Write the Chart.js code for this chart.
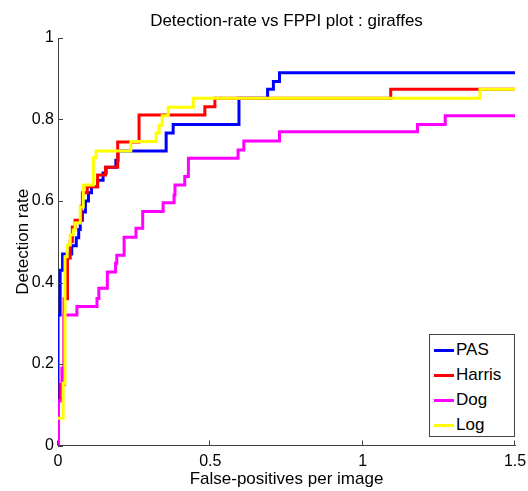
<!DOCTYPE html>
<html>
<head>
<meta charset="utf-8">
<script src="https://cdn.jsdelivr.net/npm/chart.js@4"></script>
<style>
  body { margin: 0; background: #fff; }
  #wrap { position: relative; width: 528px; height: 491px; }
  #legend {
    position: absolute; left: 429px; top: 334px; width: 84px; height: 101px;
    border: 1px solid #444; background: #fff;
    font: 17px "Liberation Sans", Arial, sans-serif; color: #000;
  }
  .row { position: absolute; left: 0; height: 20px; line-height: 20px; }
  .row i { position: absolute; left: 4px; top: 9px; width: 20px; height: 3px; }
  .row span { position: absolute; left: 26px; top: 0; white-space: nowrap; }
</style>
</head>
<body>
<div id="wrap">
  <canvas id="chart" width="528" height="491"></canvas>
  <div id="legend"></div>
</div>
<script>
// ── Data ──────────────────────────────────────────────────────
const xTicks = [0, 0.5, 1, 1.5];
const yTicks = [0, 0.2, 0.4, 0.6, 0.8, 1];

const pasX = [0, 0, 0.007, 0.015, 0.045, 0.06, 0.068, 0.073, 0.08, 0.09, 0.1, 0.11, 0.13, 0.148, 0.158, 0.19, 0.197, 0.355, 0.378, 0.594, 0.688, 0.707, 0.727, 1.5];
const pasY = [0, 0.32, 0.43, 0.47, 0.49, 0.51, 0.53, 0.553, 0.573, 0.6, 0.62, 0.635, 0.651, 0.669, 0.683, 0.70, 0.723, 0.767, 0.788, 0.852, 0.874, 0.893, 0.915, 0.915];

const harrisX = [0, 0, 0.007, 0.02, 0.031, 0.04, 0.047, 0.056, 0.076, 0.08, 0.096, 0.13, 0.156, 0.196, 0.266, 0.482, 0.515, 1.092, 1.5];
const harrisY = [0, 0.11, 0.15, 0.36, 0.46, 0.5, 0.536, 0.553, 0.587, 0.62, 0.635, 0.664, 0.683, 0.745, 0.811, 0.831, 0.852, 0.874, 0.874];

const dogX = [0, 0, 0.013, 0.02, 0.062, 0.128, 0.134, 0.162, 0.189, 0.193, 0.217, 0.256, 0.278, 0.345, 0.381, 0.384, 0.416, 0.428, 0.591, 0.61, 0.727, 1.18, 1.271, 1.5];
const dogY = [0, 0.11, 0.19, 0.32, 0.341, 0.361, 0.386, 0.426, 0.447, 0.467, 0.511, 0.533, 0.574, 0.596, 0.615, 0.639, 0.66, 0.705, 0.725, 0.747, 0.77, 0.788, 0.809, 0.809];

const logX = [0, 0.017, 0.023, 0.03, 0.04, 0.05, 0.056, 0.073, 0.083, 0.116, 0.125, 0.239, 0.322, 0.332, 0.342, 0.362, 0.444, 1.385, 1.5];
const logY = [0.067, 0.153, 0.463, 0.492, 0.517, 0.529, 0.546, 0.585, 0.639, 0.706, 0.723, 0.746, 0.767, 0.786, 0.809, 0.830, 0.852, 0.874, 0.874];

const seriesNames  = ['PAS', 'Harris', 'Dog', 'Log'];
const seriesColors = ['#0000ff', '#ff0000', '#ff00ff', '#ffff00'];
const seriesX = [pasX, harrisX, dogX, logX];
const seriesY = [pasY, harrisY, dogY, logY];

const FONT = '"Liberation Sans", Arial, sans-serif';
const AXIS = '#404040';

// ── Plugins: title over plot area + inward tick marks ─────────
const titlePlugin = {
  id: 'plotTitle',
  afterDraw(chart) {
    const { ctx, chartArea } = chart;
    ctx.save();
    ctx.font = '17px ' + FONT;
    ctx.fillStyle = '#000';
    ctx.textAlign = 'center';
    ctx.textBaseline = 'alphabetic';
    ctx.fillText('Detection-rate vs FPPI plot : giraffes', (chartArea.left + chartArea.right) / 2, 26);
    ctx.restore();
  }
};

const inTicks = {
  id: 'inTicks',
  afterDraw(chart) {
    const { ctx, chartArea, scales } = chart;
    ctx.save();
    ctx.strokeStyle = AXIS;
    ctx.lineWidth = 1;
    ctx.beginPath();
    xTicks.forEach(v => {
      const px = Math.round(scales.x.getPixelForValue(v)) - 0.5;
      ctx.moveTo(px, chartArea.bottom);
      ctx.lineTo(px, chartArea.bottom - 5);
    });
    yTicks.forEach(v => {
      const py = Math.round(scales.y.getPixelForValue(v)) + 0.5;
      ctx.moveTo(chartArea.left, py);
      ctx.lineTo(chartArea.left + 5, py);
    });
    ctx.stroke();
    ctx.restore();
  }
};

// ── Chart ─────────────────────────────────────────────────────
const datasets = seriesNames.map((name, i) => ({
  label: name,
  data: seriesX[i].map((x, k) => ({ x: x, y: seriesY[i][k] })),
  borderColor: seriesColors[i],
  backgroundColor: seriesColors[i],
  borderWidth: 3,
  pointRadius: 0,
  showLine: true,
  stepped: 'before',
  fill: false,
  order: seriesNames.length - 1 - i   // Log drawn on top
}));

new Chart(document.getElementById('chart'), {
  type: 'scatter',
  data: { datasets: datasets },
  options: {
    responsive: false,
    animation: false,
    layout: { padding: { left: 0, right: 13, top: 38, bottom: 0 } },
    plugins: { legend: { display: false }, tooltip: { enabled: false } },
    scales: {
      x: {
        type: 'linear', min: 0, max: 1.5,
        afterBuildTicks: s => { s.ticks = xTicks.map(v => ({ value: v })); },
        afterFit: s => { s.height = 45.5; s.paddingLeft = 0; s.paddingRight = 0; },
        grid: { display: true, drawOnChartArea: false, drawTicks: false },
        border: { color: AXIS, width: 1 },
        ticks: { color: '#000', font: { family: FONT, size: 16 }, padding: 6, maxRotation: 0,
                 callback: v => String(v) },
        title: { display: true, text: 'False-positives per image', color: '#000',
                 font: { family: FONT, size: 17 }, padding: { top: 0, bottom: 1 } }
      },
      y: {
        type: 'linear', min: 0, max: 1,
        afterBuildTicks: s => { s.ticks = yTicks.map(v => ({ value: v })); },
        afterFit: s => { s.width = 58; s.paddingTop = 0; s.paddingBottom = 0; },
        grid: { display: true, drawOnChartArea: false, drawTicks: false },
        border: { color: AXIS, width: 1 },
        ticks: { color: '#000', font: { family: FONT, size: 16 }, padding: 4,
                 callback: v => String(v) },
        title: { display: true, text: 'Detection rate', color: '#000',
                 font: { family: FONT, size: 17 }, padding: { top: 13, bottom: 0 } }
      }
    }
  },
  plugins: [titlePlugin, inTicks]
});

// ── Legend (inside plot, lower right) ─────────────────────────
const legend = document.getElementById('legend');
seriesNames.forEach((name, i) => {
  const row = document.createElement('div');
  row.className = 'row';
  row.style.top = (5 + i * 25) + 'px';
  row.innerHTML = '<i style="background:' + seriesColors[i] + '"></i><span>' + name + '</span>';
  legend.appendChild(row);
});
</script>
</body>
</html>
